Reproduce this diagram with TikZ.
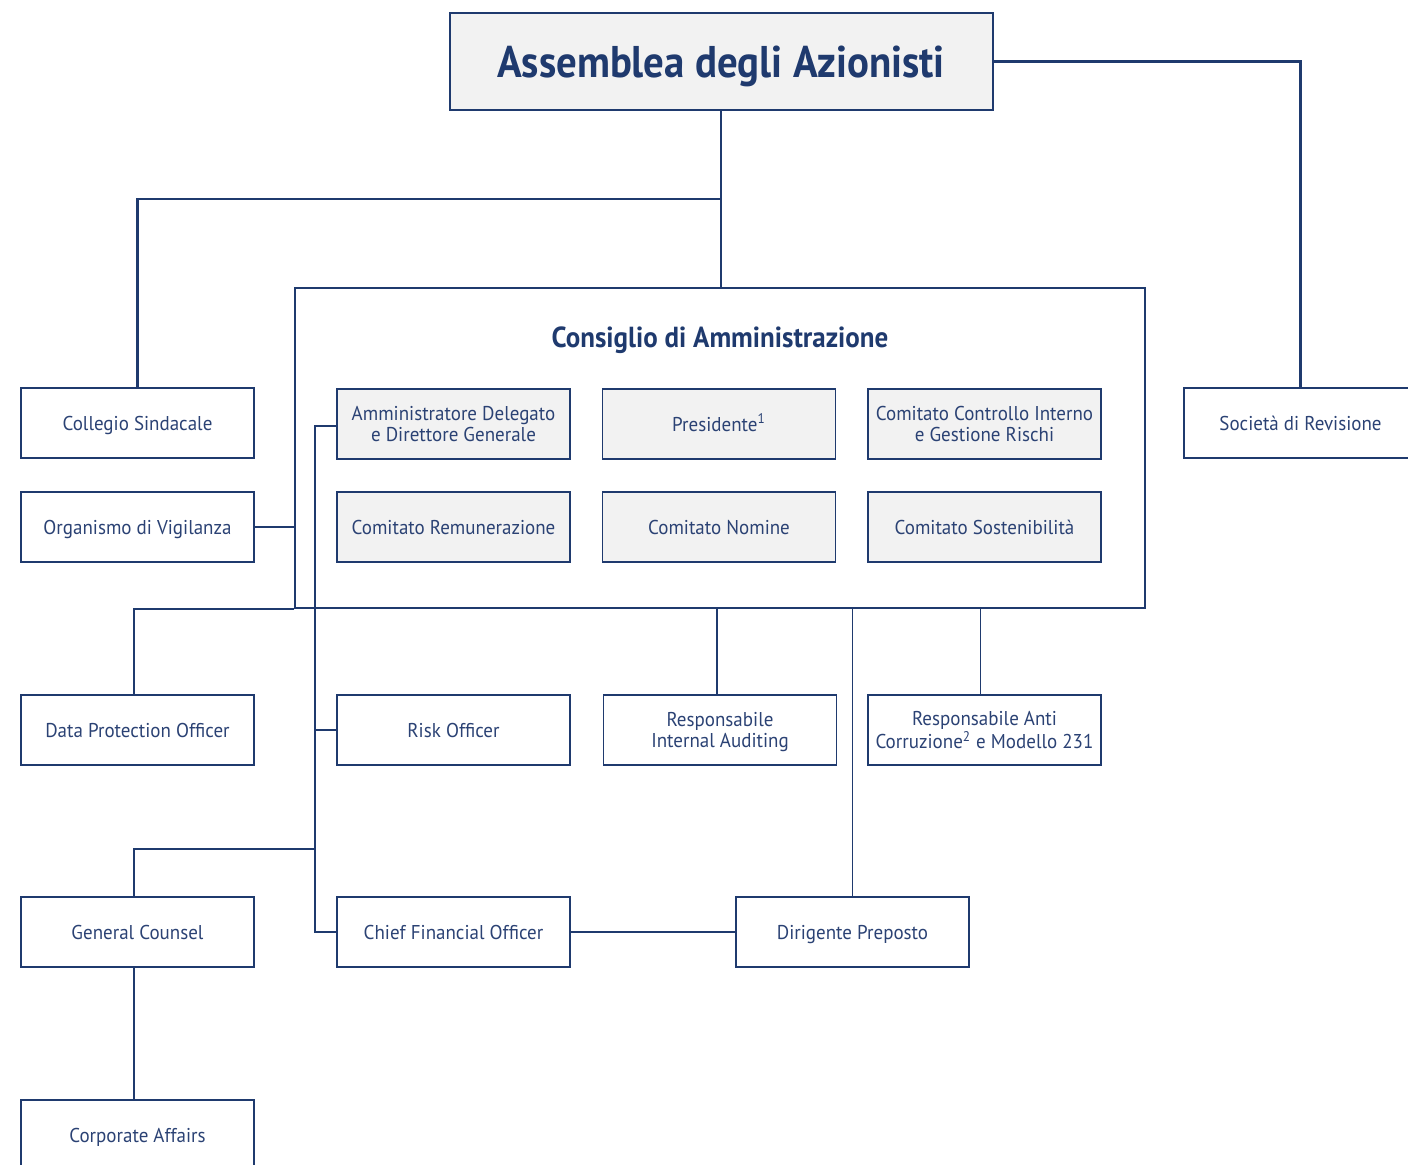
\documentclass[tikz,border=0pt]{standalone}
\usepackage{fontspec}
\setmainfont{PT Sans}
\newfontfamily\titlefont[FakeStretch=0.92]{PT Sans}
\newfontfamily\subtitlefont[FakeStretch=0.93]{PT Sans}
\newfontfamily\labelfont[FakeStretch=0.95]{PT Sans}
\definecolor{navy}{HTML}{1F3A6E}
\definecolor{txtnavy}{HTML}{2B4274}
\definecolor{boxgray}{HTML}{F2F2F2}
\newcommand{\lblstrut}{\rule[-2.5pt]{0pt}{12pt}}
\newcommand{\toplblstrut}{\rule[-2.5pt]{0pt}{12pt}}
\begin{document}
\begin{tikzpicture}[x=0.5pt,y=-0.5pt,
  box/.style={draw=navy, line width=0.7pt, text=txtnavy, align=center,
    minimum width=116.5pt, minimum height=35pt, inner sep=0pt,
    execute at begin node=\lblstrut, execute at end node=\lblstrut,
    font=\labelfont\fontsize{10}{10.5}\selectfont},
  twoline/.style={inner ysep=0pt, text depth=0pt, execute at end node={\rule[-4.5pt]{0pt}{4.5pt}}},
  inbox/.style={box, fill=boxgray},
  thinline/.style={draw=navy, line width=0.6pt},
  thickline/.style={draw=navy, line width=1.25pt}]
\useasboundingbox (0,0) rectangle (1408,1164);
% top
\node[draw=navy, fill=boxgray, line width=1pt, minimum width=271.5pt, minimum height=48.5pt, inner sep=0pt, text=navy,
  font=\titlefont\bfseries\fontsize{22.2}{25}\selectfont] (asm) at (721,61.5) {\rule[-5.5pt]{0pt}{26.5pt}Assemblea degli Azionisti};
% board
\node[draw=navy, line width=1pt, minimum width=425pt, minimum height=160pt, inner sep=0pt] (cda) at (720,448) {};
\node[text=navy, inner sep=0pt, font=\subtitlefont\bfseries\fontsize{14.5}{16}\selectfont] (cdat) at (720,337) {\rule[-3.8pt]{0pt}{17.8pt}Consiglio di Amministrazione};
\node[inbox, twoline] (ad) at (453.5,424) {Amministratore Delegato\\e Direttore Generale};
\node[inbox] (pres) at (719,424) {Presidente\textsuperscript{1}};
\node[inbox, twoline] (ccir) at (984.5,424) {Comitato Controllo Interno\\e Gestione Rischi};
\node[inbox] (rem) at (453.5,527) {Comitato Remunerazione};
\node[inbox] (nom) at (719,527) {Comitato Nomine};
\node[inbox] (sost) at (984.5,527) {Comitato Sostenibilità};
% left column
\node[box] (col) at (137.5,423) {Collegio Sindacale};
\node[box] (odv) at (137.5,527) {Organismo di Vigilanza};
\node[box] (dpo) at (137.5,730) {Data Protection Officer};
\node[box] (gc) at (137.5,932) {General Counsel};
\node[box] (ca) at (137.5,1135) {Corporate Affairs};
% right
\node[box] (soc) at (1300.5,423) {Società di Revisione};
% lower
\node[box] (risk) at (453.5,730) {Risk Officer};
\node[box, twoline] (ria) at (720,730) {Responsabile\\Internal Auditing};
\node[box, twoline] (rac) at (984.5,730) {Responsabile Anti\\Corruzione\textsuperscript{2} e Modello 231};
\node[box] (cfo) at (453.5,932) {Chief Financial Officer};
\node[box] (dp) at (852.5,932) {Dirigente Preposto};
% coordinates
\coordinate (j1) at (721,199);
\coordinate (sp) at (315,426);
\coordinate (gcj) at (315,849);
% thick connectors
\draw[thickline] (asm.south) -- (asm.south |- cda.north);
\draw[thickline] (j1) -| (col.north);
\draw[thickline] (asm.east) -| (soc.north);
% thin connectors
\draw[thinline] (odv.east) -- (odv.east -| cda.west);
\draw[thinline] (cda.south west) -| ([xshift=-1.75pt]dpo.north);
\draw[thinline] (ad.west |- sp) -- (sp) -- (sp |- cfo.west) -- (cfo.west);
\draw[thinline] (risk.west) -- (risk.west -| sp);
\draw[thinline] (gcj) -| ([xshift=-1.75pt]gc.north);
\draw[thinline] ([xshift=-1.75pt]gc.south) -- ([xshift=-1.75pt]ca.north);
\draw[thinline] (cfo.east) -- (dp.west);
\draw[thinline] (dp.north) -- (dp.north |- cda.south);
\draw[thinline] ([xshift=-1.5pt]ria.north) -- ([xshift=-1.5pt]ria.north |- cda.south);
\draw[thinline] ([xshift=-2pt]rac.north) -- ([xshift=-2pt]rac.north |- cda.south);
\end{tikzpicture}
\end{document}
